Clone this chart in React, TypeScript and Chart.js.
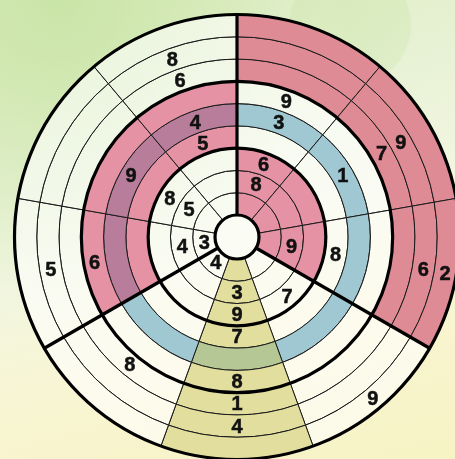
import React, { useEffect, useRef } from 'react';
import { Chart, registerables } from 'chart.js';

Chart.register(...registerables);

// 9 sectors of equal angle, clockwise from the top
const sectorLabels = ['A', 'B', 'C', 'D', 'E', 'F', 'G', 'H', 'I'];
const sectorWeights = [1, 1, 1, 1, 1, 1, 1, 1, 1];

// Given digits per ring (ring 1 = innermost), per sector
const ring1 = ['', '', '', '', '', '4', '3', '', ''];
const ring2 = ['8', '', '9', '', '3', '', '4', '5', ''];
const ring3 = ['6', '', '', '7', '9', '', '', '8', ''];
const ring4 = ['', '', '8', '', '7', '', '', '', '5'];
const ring5 = ['3', '1', '', '', '', '', '', '9', '4'];
const ring6 = ['9', '', '', '', '8', '', '6', '', ''];
const ring7 = ['', '7', '', '', '1', '8', '', '', '6'];
const ring8 = ['', '9', '6', '', '4', '', '5', '', '8'];
const ring9 = ['', '', '2', '9', '', '', '', '', ''];
const rings = [ring1, ring2, ring3, ring4, ring5, ring6, ring7, ring8, ring9];

const WHITE = 'rgba(255,255,255,0.6)';
const PINK_OUTER = '#df8b95';
const PINK = '#e592a4';
const BLUE = '#9fc8d2';
const MAUVE = '#b77d9a';
const YELLOW = '#e2de9e';
const GREEN = '#b5c795';

function cellColor(ring: number, sector: number): string {
  const group = Math.floor((ring - 1) / 3);
  const third = Math.floor(sector / 3);
  const pink = (group === 0 && third === 0) || (group === 2 && third === 0) || (group === 1 && third === 2);
  const blue = ring === 5;
  const yellow = sector === 4;
  if (blue && pink) return MAUVE;
  if (blue && yellow) return GREEN;
  if (blue) return BLUE;
  if (yellow) return YELLOW;
  if (pink) return group === 2 ? PINK_OUTER : PINK;
  return WHITE;
}

const overlayPlugin = {
  id: 'overlay',
  afterDatasetsDraw(chart: any) {
    const ctx = chart.ctx;
    const n = chart.data.datasets.length;
    const outerMeta = chart.getDatasetMeta(0);
    const innerMeta = chart.getDatasetMeta(n - 1);
    const a0 = outerMeta.data[0];
    const cx = a0.x;
    const cy = a0.y;
    const rOuter = a0.outerRadius;
    const rHole = innerMeta.data[0].innerRadius;
    const r6 = chart.getDatasetMeta(2).data[0].innerRadius;
    const r3 = chart.getDatasetMeta(5).data[0].innerRadius;
    ctx.save();
    // hole
    ctx.beginPath();
    ctx.arc(cx, cy, rHole, 0, Math.PI * 2);
    ctx.fillStyle = '#fbfcf3';
    ctx.fill();
    // digits
    ctx.fillStyle = '#111';
    ctx.font = 'bold 20px "Liberation Sans", Arial, sans-serif';
    ctx.textAlign = 'center';
    ctx.textBaseline = 'middle';
    for (let d = 0; d < n; d++) {
      const ring = n - d;
      const meta = chart.getDatasetMeta(d);
      meta.data.forEach((arc: any, i: number) => {
        const label = rings[ring - 1][i];
        if (!label) return;
        const p = arc.getCenterPoint();
        ctx.fillText(label, p.x, p.y + 1);
        ctx.lineWidth = 0.5;
        ctx.strokeStyle = '#111';
        ctx.strokeText(label, p.x, p.y + 1);
      });
    }
    // bold lines
    ctx.strokeStyle = '#000';
    ctx.lineWidth = 3.2;
    [rOuter, r6, r3, rHole].forEach((r) => {
      ctx.beginPath();
      ctx.arc(cx, cy, r, 0, Math.PI * 2);
      ctx.stroke();
    });
    [0, 3, 6].forEach((i) => {
      const ang = outerMeta.data[i].startAngle;
      ctx.beginPath();
      ctx.moveTo(cx + rHole * Math.cos(ang), cy + rHole * Math.sin(ang));
      ctx.lineTo(cx + rOuter * Math.cos(ang), cy + rOuter * Math.sin(ang));
      ctx.stroke();
    });
    ctx.restore();
  },
};

export default function App() {
  const ref = useRef<HTMLCanvasElement | null>(null);
  useEffect(() => {
    if (!ref.current) return;
    const datasets = [];
    for (let d = 0; d < rings.length; d++) {
      const ring = rings.length - d;
      datasets.push({
        label: 'Ring ' + ring,
        data: sectorWeights,
        backgroundColor: sectorWeights.map((_, s) => cellColor(ring, s)),
        borderColor: '#1a1a1a',
        borderWidth: 1,
        hoverOffset: 0,
      });
    }
    const chart = new Chart(ref.current, {
      type: 'doughnut',
      data: { labels: sectorLabels, datasets },
      options: {
        responsive: false,
        animation: false,
        radius: 222.5,
        cutout: (22 / 222.5 * 100) + '%',
        rotation: 0,
        events: [],
        layout: { padding: 0 },
        plugins: { legend: { display: false }, tooltip: { enabled: false } },
      },
      plugins: [overlayPlugin],
    } as any);
    return () => chart.destroy();
  }, []);
  return (
    <div
      style={{
        position: 'fixed',
        left: 0,
        top: 0,
        width: 455,
        height: 459,
        overflow: 'hidden',
        background:
          'radial-gradient(circle at 350px 25px, rgba(190,222,150,0.28) 0px, rgba(190,222,150,0.22) 60px, rgba(190,222,150,0) 62px), radial-gradient(ellipse at 60px 0px, rgba(200,228,165,0.9) 0px, rgba(210,232,180,0) 260px), linear-gradient(165deg, #dcecbf 0%, #e8f2d6 30%, #f2f6e0 50%, #f8f5d2 72%, #f6f3c4 100%)',
      }}
    >
      <canvas
        ref={ref}
        width={460}
        height={460}
        style={{ position: 'absolute', left: 7, top: 6.5, width: 460, height: 460 }}
      />
    </div>
  );
}
